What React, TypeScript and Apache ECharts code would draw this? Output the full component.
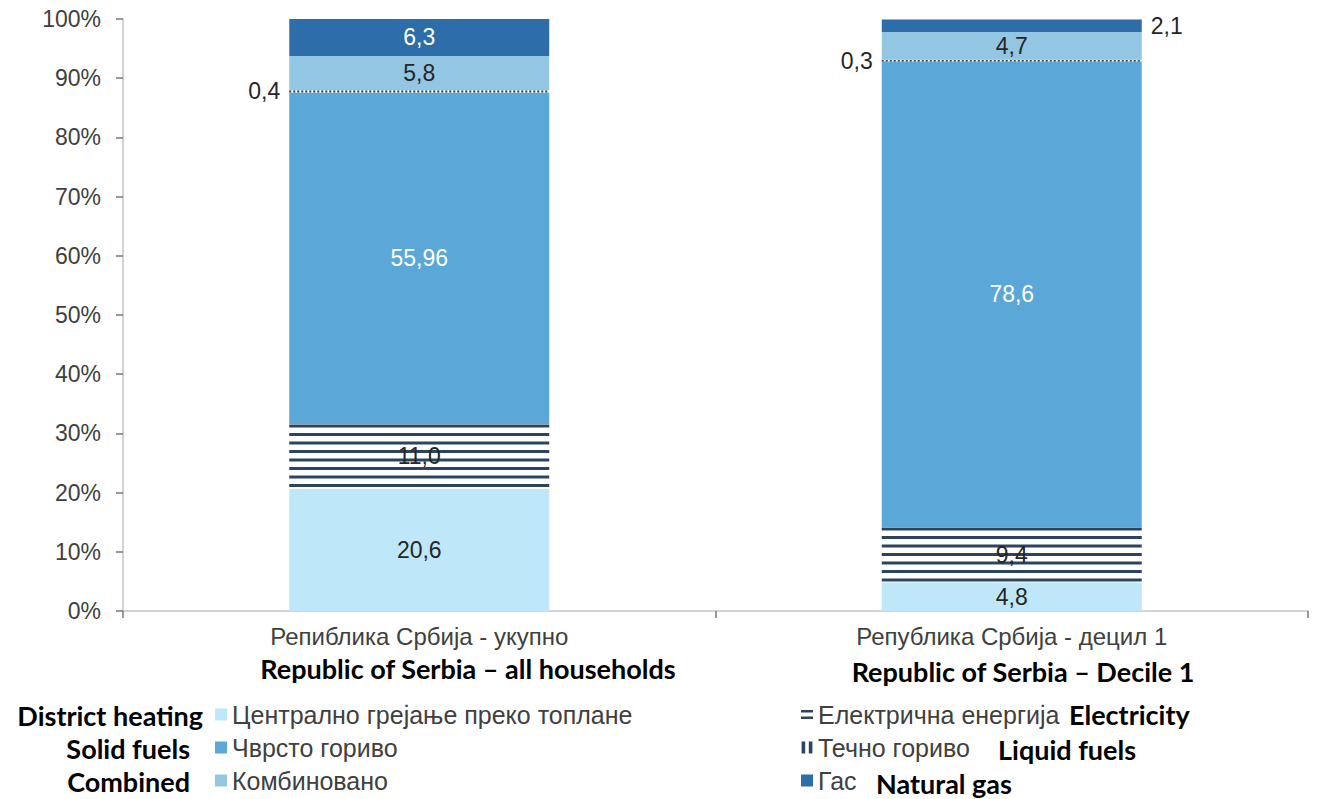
import React, { useEffect, useRef } from "react";
import * as echarts from "echarts";

// Heating source shares (%), bottom to top of each stacked bar
const categories = ["Репиблика Србија - укупно", "Република Србија - децил 1"];
const categoriesEn = ["Republic of Serbia – all households", "Republic of Serbia – Decile 1"];
const districtHeating = [20.6, 4.8];
const electricity = [11.0, 9.4];
const solidFuels = [55.96, 78.6];
const liquidFuels = [0.4, 0.3];
const combined = [5.8, 4.7];
const naturalGas = [6.3, 2.1];
const yTicks = [0, 10, 20, 30, 40, 50, 60, 70, 80, 90, 100];

const seriesNames = {
  district: "Централно грејање преко топлане",
  solid: "Чврсто гориво",
  combined: "Комбиновано",
  electricity: "Електрична енергија",
  liquid: "Течно гориво",
  gas: "Гас",
};

const C_DISTRICT = "#BEE7F9";
const C_SOLID = "#5AA7D8";
const C_COMBINED = "#92C6E3";
const C_GAS = "#2C6DAA";
const C_NAVY = "#2A4462";
const TXT_DARK = "#262626";
const TXT_AXIS = "#404040";
const FONT = "'Liberation Sans', Arial, sans-serif";
const FONT_EN = "Lato, 'Open Sans', sans-serif";
const BAR_W = 260;

const fmt = (v: number) => {
  const tenth = Math.abs(v * 10 - Math.round(v * 10)) < 1e-6;
  return (tenth ? v.toFixed(1) : v.toFixed(2)).replace(".", ",");
};

const labelBase = {
  show: true,
  fontFamily: FONT,
  fontSize: 23,
  color: TXT_DARK,
  formatter: (p: any) => fmt(p.value as number),
};

export default function App() {
  const ref = useRef<HTMLDivElement>(null);

  useEffect(() => {
    if (!ref.current) return;
    const chart = echarts.init(ref.current, null, { renderer: "svg" });

    // Hatched segments: [category, base, top, kind] (kind 0 = horizontal lines, 1 = vertical dashes)
    const hatchData: number[][] = [];
    categories.forEach((_, i) => {
      const eBase = districtHeating[i];
      hatchData.push([i, eBase, eBase + electricity[i], 0]);
      const lBase = eBase + electricity[i] + solidFuels[i];
      hatchData.push([i, lBase, lBase + liquidFuels[i], 1]);
    });

    const bar = (name: string, data: any[], color: string, label: any) => ({
      type: "bar",
      name,
      stack: "total",
      barWidth: BAR_W,
      z: 3,
      data,
      itemStyle: { color },
      label: { ...labelBase, ...label },
    });

    const legendText = { fontFamily: FONT, fontSize: 25, color: TXT_AXIS };

    // English captions beside the legend entries and under the categories
    const captions = [
      { text: "District heating", x: 203, y: 715, align: "right" },
      { text: "Solid fuels", x: 190, y: 748, align: "right" },
      { text: "Combined", x: 190, y: 781, align: "right" },
      { text: "Electricity", x: 1069, y: 714, align: "left" },
      { text: "Liquid fuels", x: 998, y: 749, align: "left" },
      { text: "Natural gas", x: 876, y: 783, align: "left" },
      { text: categoriesEn[0], x: 468, y: 668, align: "center" },
      { text: categoriesEn[1], x: 1023, y: 671, align: "center" },
    ];

    chart.setOption({
      animation: false,
      grid: { left: 123, right: 10, top: 19, bottom: 188 },
      xAxis: {
        type: "category",
        data: categories,
        axisLine: { lineStyle: { color: "#c4c4c4", width: 1.5 } },
        axisTick: { show: true, interval: 0, length: 7, lineStyle: { color: "#777", width: 1.5 } },
        axisLabel: { fontFamily: FONT, fontSize: 24, color: TXT_AXIS, margin: 13 },
      },
      yAxis: {
        type: "value",
        min: yTicks[0],
        max: yTicks[yTicks.length - 1],
        interval: 10,
        axisLine: { show: true, lineStyle: { color: "#c4c4c4", width: 1.5 } },
        axisTick: { show: true, length: 7, lineStyle: { color: "#777", width: 1.5 } },
        splitLine: { show: false },
        axisLabel: {
          fontFamily: FONT,
          fontSize: 23,
          color: TXT_AXIS,
          margin: 22,
          formatter: (v: number) => `${v}%`,
        },
      },
      legend: [
        {
          left: 215,
          top: 702,
          padding: 0,
          orient: "vertical",
          itemWidth: 12,
          itemHeight: 12,
          itemGap: 8,
          selectedMode: false,
          textStyle: legendText,
          data: [
            { name: seriesNames.district, icon: "rect" },
            { name: seriesNames.solid, icon: "rect" },
            { name: seriesNames.combined, icon: "rect" },
          ],
        },
        {
          left: 801,
          top: 702,
          padding: 0,
          orient: "vertical",
          itemWidth: 12,
          itemHeight: 12,
          itemGap: 8,
          selectedMode: false,
          textStyle: legendText,
          data: [
            {
              name: seriesNames.electricity,
              icon: "path://M0,0L12,0L12,2.6L0,2.6Z M0,6.4L12,6.4L12,9L0,9Z",
              itemStyle: { color: C_NAVY },
            },
            {
              name: seriesNames.liquid,
              icon: "path://M0,0L3,0L3,10L0,10Z M6,0L9,0L9,10L6,10Z",
              itemStyle: { color: C_NAVY },
            },
            { name: seriesNames.gas, icon: "rect" },
          ],
        },
      ],
      graphic: captions.map((t) => ({
        type: "text",
        x: t.x,
        y: t.y,
        style: {
          text: t.text,
          font: `bold 27px ${FONT_EN}`,
          fill: "#000",
          verticalAlign: "middle",
          align: t.align,
        },
      })),
      series: [
        bar(seriesNames.district, districtHeating, C_DISTRICT, { position: "inside" }),
        bar(seriesNames.electricity, electricity, "rgba(255,255,255,0)", { position: "inside" }),
        bar(seriesNames.solid, solidFuels, C_SOLID, { position: "inside", color: "#fff" }),
        bar(seriesNames.liquid, liquidFuels, "rgba(255,255,255,0)", { position: "left", distance: 9 }),
        bar(seriesNames.combined, combined, C_COMBINED, { position: "inside" }),
        bar(
          seriesNames.gas,
          naturalGas.map((v, i) =>
            i === 0
              ? { value: v, label: { position: "inside", color: "#fff" } }
              : { value: v, label: { position: "right", distance: 9, color: TXT_DARK } }
          ),
          C_GAS,
          { position: "inside" }
        ),
        {
          type: "custom",
          name: "hatch",
          z: 2,
          silent: true,
          encode: { x: 0, y: [1, 2] },
          data: hatchData,
          renderItem: (_params: any, api: any) => {
            const i = api.value(0);
            const p0 = api.coord([i, api.value(1)]);
            const p1 = api.coord([i, api.value(2)]);
            const x0 = p0[0] - BAR_W / 2;
            const children: any[] = [];
            if (api.value(3) === 0) {
              for (let y = p1[1] + 0.5; y + 3 <= p0[1]; y += 8.5) {
                children.push({
                  type: "rect",
                  shape: { x: x0, y, width: BAR_W, height: 3 },
                  style: { fill: C_NAVY },
                });
              }
            } else {
              const h = Math.max(p0[1] - p1[1], 2);
              for (let x = x0; x < x0 + BAR_W; x += 4) {
                children.push({
                  type: "rect",
                  shape: { x, y: p1[1], width: 2, height: h },
                  style: { fill: C_NAVY },
                });
              }
            }
            return { type: "group", children };
          },
        },
      ],
    });

    return () => chart.dispose();
  }, []);

  return (
    <div
      ref={ref}
      style={{ position: "fixed", left: 0, top: 0, width: 1318, height: 799, background: "#fff" }}
    />
  );
}
